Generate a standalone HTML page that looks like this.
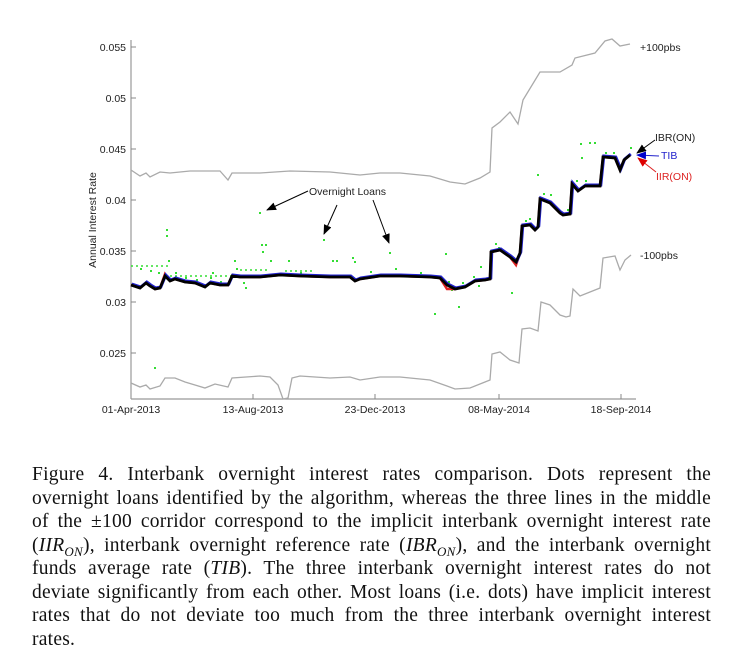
<!DOCTYPE html>
<html><head><meta charset="utf-8"><style>
body{margin:0;background:#fff;width:732px;height:661px;overflow:hidden;position:relative}
svg{position:absolute;left:0;top:0}
.cap{position:absolute;left:32px;width:679px;font-family:"Liberation Serif",serif;font-size:19.5px;letter-spacing:0.25px;color:#111}
.cap div{height:23.5px;line-height:23.5px;text-align:justify;text-align-last:justify;white-space:nowrap}
.cap div.l{text-align-last:left}
</style></head><body>
<svg width="732" height="661" font-family="Liberation Sans, sans-serif">
<defs>
<marker id="ah" markerWidth="10" markerHeight="8" refX="9" refY="4" orient="auto" markerUnits="userSpaceOnUse"><path d="M0,0 L10,4 L0,8 Z" fill="#000"/></marker>
<marker id="ab" markerWidth="10" markerHeight="8" refX="9" refY="4" orient="auto" markerUnits="userSpaceOnUse"><path d="M0,0 L10,4 L0,8 Z" fill="#00c"/></marker>
<marker id="ar" markerWidth="10" markerHeight="8" refX="9" refY="4" orient="auto" markerUnits="userSpaceOnUse"><path d="M0,0 L10,4 L0,8 Z" fill="#d00"/></marker>
</defs>
<g stroke="#999" stroke-width="1.2">
<line x1="131" y1="40" x2="131" y2="399"/><line x1="131" y1="399" x2="636" y2="399"/>
</g>
<g stroke="#888" stroke-width="1">
<line x1="131" y1="47" x2="136" y2="47"/><line x1="131" y1="98" x2="136" y2="98"/><line x1="131" y1="149" x2="136" y2="149"/><line x1="131" y1="200" x2="136" y2="200"/><line x1="131" y1="251" x2="136" y2="251"/><line x1="131" y1="302" x2="136" y2="302"/><line x1="131" y1="353" x2="136" y2="353"/>
<line x1="253" y1="399" x2="253" y2="394"/><line x1="375" y1="399" x2="375" y2="394"/><line x1="499" y1="399" x2="499" y2="394"/><line x1="621" y1="399" x2="621" y2="394"/>
</g>
<g font-size="10.5" fill="#222" text-anchor="end">
<text x="126" y="51">0.055</text><text x="126" y="102">0.05</text><text x="126" y="153">0.045</text><text x="126" y="204">0.04</text><text x="126" y="255">0.035</text><text x="126" y="306">0.03</text><text x="126" y="357">0.025</text>
</g>
<g font-size="10.5" fill="#222" text-anchor="middle">
<text x="131" y="413">01-Apr-2013</text><text x="253" y="413">13-Aug-2013</text><text x="375" y="413">23-Dec-2013</text><text x="499" y="413">08-May-2014</text><text x="621" y="413">18-Sep-2014</text>
</g>
<text transform="translate(96,220) rotate(-90)" font-size="10.5" fill="#222" text-anchor="middle">Annual Interest Rate</text>
<g fill="none" stroke="#aaa" stroke-width="1.3">
<polyline points="131,170 140,176 146,173 150,177 160,172 170,173 190,171 220,171 228,180 232,173 260,173 290,171 330,172 360,175 380,173 400,173 430,176 450,182 465,184 480,178 490,172 492,128 500,122 510,112 518,124 523,100 540,72 560,72 572,65 575,58 595,53 605,41 612,39 620,46 630,44"/>
<polyline points="131,383 140,387 146,385 150,389 160,386 165,378 175,378 185,382 195,385 205,388 215,384 228,387 232,378 260,376 270,377 278,385 283,399 288,398 292,378 300,376 330,378 350,377 360,380 380,377 400,377 430,380 447,386 455,389 470,388 485,382 490,380 492,354 500,352 510,360 519,363 522,329 530,328 538,331 541,302 550,305 560,315 566,317 570,316 573,289 580,296 600,288 603,258 615,256 620,270 625,260 631,255"/>
</g>
<g fill="#3d3">
<rect x="154" y="367" width="2" height="2"/><rect x="166" y="229" width="2" height="2"/><rect x="166" y="235" width="2" height="2"/><rect x="259" y="212" width="2" height="2"/><rect x="261" y="244" width="2" height="2"/><rect x="265" y="244" width="2" height="2"/><rect x="262" y="251" width="2" height="2"/><rect x="323" y="239" width="2" height="2"/><rect x="389" y="252" width="2" height="2"/><rect x="445" y="253" width="2" height="2"/><rect x="434" y="313" width="2" height="2"/><rect x="511" y="292" width="2" height="2"/><rect x="495" y="243" width="2" height="2"/><rect x="458" y="306" width="2" height="2"/><rect x="478" y="285" width="2" height="2"/><rect x="480" y="266" width="2" height="2"/><rect x="537" y="174" width="2" height="2"/><rect x="580" y="143" width="2" height="2"/><rect x="581" y="157" width="2" height="2"/><rect x="589" y="142" width="2" height="2"/><rect x="594" y="142" width="2" height="2"/>
<rect x="140" y="268" width="2" height="2"/><rect x="150" y="270" width="2" height="2"/><rect x="158" y="272" width="2" height="2"/><rect x="168" y="260" width="2" height="2"/><rect x="175" y="272" width="2" height="2"/><rect x="185" y="277" width="2" height="2"/><rect x="196" y="279" width="2" height="2"/><rect x="210" y="277" width="2" height="2"/><rect x="212" y="272" width="2" height="2"/><rect x="220" y="281" width="2" height="2"/><rect x="234" y="260" width="2" height="2"/><rect x="236" y="268" width="2" height="2"/><rect x="243" y="282" width="2" height="2"/><rect x="245" y="287" width="2" height="2"/><rect x="270" y="260" width="2" height="2"/><rect x="288" y="260" width="2" height="2"/><rect x="300" y="272" width="2" height="2"/><rect x="332" y="260" width="2" height="2"/><rect x="336" y="260" width="2" height="2"/><rect x="352" y="257" width="2" height="2"/><rect x="354" y="261" width="2" height="2"/><rect x="370" y="271" width="2" height="2"/><rect x="395" y="268" width="2" height="2"/><rect x="420" y="272" width="2" height="2"/><rect x="448" y="281" width="2" height="2"/><rect x="451" y="289" width="2" height="2"/><rect x="462" y="282" width="2" height="2"/><rect x="473" y="276" width="2" height="2"/><rect x="490" y="250" width="2" height="2"/><rect x="498" y="247" width="2" height="2"/><rect x="525" y="220" width="2" height="2"/><rect x="529" y="218" width="2" height="2"/><rect x="543" y="193" width="2" height="2"/><rect x="550" y="194" width="2" height="2"/><rect x="567" y="209" width="2" height="2"/><rect x="576" y="180" width="2" height="2"/><rect x="585" y="180" width="2" height="2"/><rect x="605" y="152" width="2" height="2"/><rect x="613" y="152" width="2" height="2"/><rect x="630" y="147" width="2" height="2"/>
</g>
<g stroke="#3d3" stroke-width="1.5" stroke-dasharray="2,3">
<line x1="131" y1="266" x2="171" y2="266"/><line x1="240" y1="270" x2="270" y2="270"/><line x1="285" y1="271" x2="315" y2="271"/><line x1="170" y1="276" x2="240" y2="276"/>
</g>
<polyline fill="none" stroke="#d22" stroke-width="2.5" points="131,285 140,288 146,283 150,286 155,289 160,288 165,274 170,281 175,279 185,282 195,283 205,287 210,283 220,285 228,285 232,276 240,277 260,277 280,275 300,276 330,277 350,277 355,281 360,279 380,276 400,276 430,277 440,278 447,289 455,289 465,287 475,281 485,280 490,279 491,252 500,250 510,257 516,265 520,253 522,226 530,225 535,230 538,227 540,199 550,203 560,213 563,215 570,214 572,184 578,191 585,186 600,186 603,157 615,158 620,170 624,160 630,155"/>
<polyline fill="none" stroke="#22c" stroke-width="3" transform="translate(0.8,-1)" points="131,285 140,288 146,283 150,286 155,289 160,288 165,276 170,281 175,279 185,282 195,283 205,287 210,283 220,285 228,285 232,276 240,277 260,277 280,275 300,276 330,277 350,277 355,281 360,279 380,276 400,276 430,277 440,278 447,285 455,289 465,287 475,281 485,280 490,279 491,252 500,250 510,257 516,262 520,253 522,226 530,225 535,230 538,227 540,199 550,203 560,213 563,215 570,214 572,184 578,191 585,186 600,186 603,157 615,158 620,170 624,160 630,155"/>
<polyline fill="none" stroke="#000" stroke-width="2.8" points="131,285 140,288 146,283 150,286 155,289 160,288 165,276 170,281 175,279 185,282 195,283 205,287 210,283 220,285 228,285 232,276 240,277 260,277 280,275 300,276 330,277 350,277 355,281 360,279 380,276 400,276 430,277 440,278 447,285 455,289 465,287 475,281 485,280 490,279 491,252 500,250 510,257 516,262 520,253 522,226 530,225 535,230 538,227 540,199 550,203 560,213 563,215 570,214 572,184 578,191 585,186 600,186 603,157 615,158 620,170 624,160 630,155"/>
<g stroke="#000" stroke-width="1" fill="none" marker-end="url(#ah)">
<line x1="308" y1="191" x2="267" y2="210"/><line x1="337" y1="205" x2="324" y2="234"/><line x1="373" y1="200" x2="389" y2="243"/>
<line x1="655" y1="140" x2="637" y2="153"/>
</g>
<line x1="659" y1="156" x2="637" y2="155" stroke="#22c" stroke-width="1" marker-end="url(#ab)"/>
<line x1="656" y1="172" x2="638" y2="158" stroke="#d22" stroke-width="1" marker-end="url(#ar)"/>
<g font-size="10.5" fill="#222">
<text x="309" y="195">Overnight Loans</text>
<text x="640" y="51">+100pbs</text><text x="640" y="259">-100pbs</text>
<text x="655" y="141">IBR(ON)</text>
<text x="661" y="159" fill="#22c">TIB</text>
<text x="656" y="180" fill="#d22">IIR(ON)</text>
</g>
</svg>
<div class="cap" style="top:463px">
<div>Figure 4. Interbank overnight interest rates comparison. Dots represent the</div>
<div>overnight loans identified by the algorithm, whereas the three lines in the middle</div>
<div>of the ±100 corridor correspond to the implicit interbank overnight interest rate</div>
<div>(<i>IIR<sub style="font-size:13px">ON</sub></i>), interbank overnight reference rate (<i>IBR<sub style="font-size:13px">ON</sub></i>), and the interbank overnight</div>
<div>funds average rate (<i>TIB</i>). The three interbank overnight interest rates do not</div>
<div>deviate significantly from each other. Most loans (i.e. dots) have implicit interest</div>
<div>rates that do not deviate too much from the three interbank overnight interest</div>
<div class="l">rates.</div>
</div>
</body></html>
